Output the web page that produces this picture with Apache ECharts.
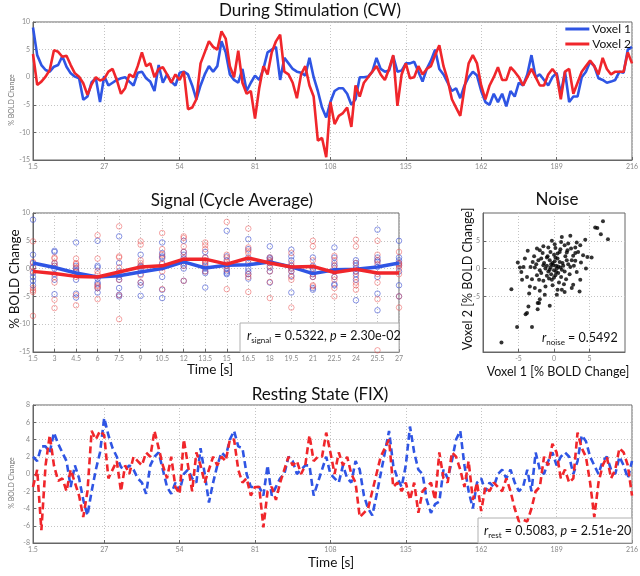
<!DOCTYPE html>
<html><head><meta charset="utf-8">
<script src="https://cdn.jsdelivr.net/npm/echarts@6/dist/echarts.min.js"></script>
<style>html,body{margin:0;padding:0;background:#fff}#c{width:640px;height:576px}</style>
</head><body><div id="c"></div>
<script>
// ---------------- data ----------------
const TR = 1.5; // sampling interval [s]
const TIME_TICKS = [1.5, 27, 54, 81, 108, 135, 162, 189, 216];

const STIM_V1 = [9.0,4.0,2.2,1.3,1.0,1.9,2.2,3.8,1.9,0.7,
 0.1,-0.2,-4.1,-3.5,-0.9,-0.2,-4.5,0.2,-1.5,-1.0,
 -0.5,-0.2,0.0,-0.8,-1.5,0.8,1.0,-0.2,-0.8,-2.5,
 2.2,-1.0,0.5,-0.8,-1.5,0.8,1.0,0.5,-1.5,-4.0,
 -1.5,0.5,2.0,1.0,2.0,6.5,4.5,0.5,-0.5,-1.0,
 1.5,-2.5,-1.0,0.3,-0.5,1.5,4.5,5.0,5.5,-0.5,
 3.5,2.5,1.5,1.0,0.8,0.3,3.5,0.0,-2.5,-5.5,
 -7.3,-4.5,-2.5,-2.0,-2.0,-3.0,-5.0,-4.0,0.0,0.0,
 0.1,1.0,3.5,1.5,1.0,1.2,3.8,1.0,1.2,2.5,
 2.5,2.8,1.0,-0.8,1.5,3.0,5.0,1.5,0.5,-1.0,
 -2.5,-2.0,-3.8,-1.5,0.0,1.0,0.3,-2.5,-4.5,-5.0,
 -3.0,-4.5,-3.0,-5.3,-2.5,-3.5,-1.0,-1.5,0.5,4.0,
 0.0,0.5,-0.5,-1.5,0.0,0.8,-3.0,1.0,-4.5,-3.5,
 -3.5,0.0,1.0,2.8,2.0,-0.2,-0.5,-1.0,-0.8,-0.5,
 1.0,0.8,5.0,5.5];
const STIM_V2 = [4.2,-1.4,-0.8,0.1,1.3,4.9,4.6,3.7,3.9,2.2,
 0.7,0.1,-1.1,-3.2,-1.3,0.0,-0.6,-0.3,1.0,1.5,
 -0.5,-3.0,-2.0,0.5,0.0,2.0,4.5,2.0,2.5,0.0,
 1.5,1.8,0.5,-1.0,0.5,-0.5,1.0,-5.8,-5.5,-4.0,
 2.5,4.5,6.5,5.5,5.0,8.3,7.0,2.0,0.0,4.8,
 -1.0,-3.0,-2.5,-7.5,-2.0,2.0,0.5,4.5,6.5,7.7,
 1.0,0.5,-1.0,-3.8,0.5,2.0,-1.5,-3.5,-11.5,-11.0,
 -14.5,-4.5,-8.5,-7.0,-6.5,-5.5,-9.0,-1.5,-3.5,-1.0,
 0.0,1.0,2.0,0.5,-0.5,1.5,4.0,-5.2,0.5,2.5,
 -0.2,0.0,2.0,0.5,1.5,2.0,4.0,5.8,2.0,-0.5,
 -4.0,-5.5,-7.0,-2.0,2.5,4.0,2.5,-1.5,-4.0,-1.5,
 0.0,1.8,-0.5,-0.5,1.8,1.0,0.0,-1.5,0.0,1.5,
 0.0,-1.5,-1.5,0.5,1.5,0.5,-4.0,1.0,1.5,-3.0,
 -1.0,1.0,2.0,3.0,2.0,0.5,3.5,1.5,0.5,1.0,
 1.0,1.0,4.5,2.5];

const REST_V1 = [2.0,1.5,3.2,3.2,2.5,4.8,3.5,2.5,1.5,-1.5,
 1.0,-0.5,-3.0,-4.8,-2.0,0.5,2.5,6.5,4.5,3.0,
 2.0,0.8,0.5,1.0,0.5,-0.5,-1.0,-2.3,1.0,2.0,
 2.5,0.5,-1.5,-2.3,-1.0,-2.0,0.0,0.5,-0.5,-1.0,
 3.0,0.0,-3.3,-1.0,1.0,2.5,2.0,4.0,5.0,3.2,
 3.0,0.0,-1.5,-1.5,-1.5,-2.5,1.0,-2.5,-1.5,-0.5,
 0.0,2.0,1.5,0.0,0.5,1.0,1.0,-2.5,-1.0,0.5,
 2.0,0.0,-0.5,-1.0,1.0,-0.5,-1.0,1.5,0.5,-2.5,
 -4.0,-4.8,-2.5,0.0,2.5,5.0,1.0,-0.5,-1.5,1.0,
 5.5,2.5,0.5,0.0,-3.0,-4.5,-3.5,-3.2,0.5,-0.5,
 1.5,4.0,5.0,1.0,-2.0,-4.0,-1.0,-0.5,-2.0,-1.0,
 -1.5,0.0,0.5,-0.5,0.5,-1.0,-2.0,-1.5,0.5,-2.0,
 2.5,0.5,0.0,1.5,2.5,1.0,2.0,2.5,2.0,0.0,
 1.5,4.5,3.8,2.0,1.0,0.0,1.5,2.0,0.5,0.0,
 2.0,1.0,-0.5,1.5];
const REST_V2 = [-1.5,0.5,-6.5,1.0,4.5,1.0,-0.8,-0.5,-2.0,0.5,
 -1.0,-2.5,-5.0,-2.0,5.0,4.0,5.0,4.5,-0.5,0.5,
 1.5,-2.0,1.0,0.0,2.0,1.5,1.0,2.5,2.0,5.0,
 3.0,1.0,-0.5,2.0,-1.5,-2.3,4.0,1.0,-2.0,2.5,
 1.0,-1.0,0.5,2.0,1.0,2.0,1.5,4.0,4.0,0.5,
 -1.0,-0.5,-2.5,-1.5,-1.5,-6.2,-2.0,-1.5,-3.0,-1.0,
 0.5,2.0,1.0,1.5,0.0,1.0,4.5,1.5,2.0,2.0,
 4.8,2.5,0.0,2.5,1.0,2.0,0.0,-1.0,-5.0,-4.5,
 -4.0,-2.0,0.0,2.0,3.0,4.0,-1.5,-1.0,-2.0,-1.0,
 -3.0,-1.0,-4.5,-2.0,-1.5,-1.0,-3.0,2.5,-0.5,-1.0,
 2.5,2.0,0.5,-1.5,1.5,-3.0,-1.0,-4.3,-1.5,-2.0,
 -1.0,-1.5,-2.0,-0.5,-2.0,-4.0,-5.5,-5.3,-5.5,-4.0,
 -2.0,-1.5,2.0,1.0,3.5,2.5,-0.5,0.5,-1.0,-0.5,
 4.8,3.0,2.0,-1.0,-5.0,-1.0,1.0,2.0,-0.5,0.5,
 3.0,2.5,1.0,-2.5];

const SIG_T = [1.5,3,4.5,6,7.5,9,10.5,12,13.5,15,16.5,18,19.5,21,22.5,24,25.5,27];
const SIG_V1_MEAN = [1.0,0.2,-0.8,-1.5,-1.3,-0.6,0.0,1.2,0.1,0.6,0.7,1.2,0.3,-0.9,-0.2,-0.1,0.3,1.0];
const SIG_V2_MEAN = [-0.5,-0.9,-1.4,-1.5,-0.6,0.3,0.5,1.7,1.7,0.8,1.9,1.0,0.3,0.4,-0.7,-0.1,-0.8,-0.8];
const SIG_V1_CYCLES = [
 [8.8,2.5,1.0,0.2,-0.8,-1.5,-2.2,-3.0],[3.2,3.0,1.0,0.5,0.0,-1.0,-2.0,-4.6],
 [4.7,0.5,0.0,-0.3,-0.5,-2.0,-4.5,-5.2],[5.0,0.5,0.2,-1.8,-2.5,-2.8,-3.5,-4.3],
 [5.8,1.0,-0.5,-1.5,-2.0,-3.5,-4.7,-5.0],[2.5,0.5,0.3,0.0,-1.0,-2.5,-3.0,-4.9],
 [4.7,2.8,2.2,2.0,1.0,-1.5,-3.8,-5.3],[5.0,3.0,2.5,1.8,1.0,0.5,0.0,-2.2],
 [3.0,2.0,1.2,0.5,0.0,-0.5,-0.8,-3.4],[6.8,2.2,1.5,0.5,0.0,-0.5,-0.8,-1.0],
 [5.3,3.5,2.0,1.0,0.0,-0.5,-1.0,-1.8],[4.0,2.0,1.8,1.5,1.0,0.2,-0.5,-2.5],
 [3.4,2.2,1.5,0.5,0.0,-0.5,-1.3,-4.3],[2.0,0.5,0.0,-0.3,-1.0,-1.5,-3.5,-3.8],
 [3.8,2.0,1.0,0.5,-0.5,-1.5,-2.8,-3.0],[1.5,1.0,0.5,0.0,-0.5,-1.0,-2.0,-5.7],
 [7.0,2.0,1.5,1.2,0.3,-1.5,-4.5,-7.5],[5.0,2.0,1.5,1.0,0.5,-0.5,-3.0,-5.0]];
const SIG_V2_CYCLES = [
 [4.9,1.2,0.3,-0.5,-3.5,-3.9,-4.2,-8.5],[2.0,1.8,1.0,0.5,-1.5,-2.5,-5.6,-7.1],
 [1.8,1.0,0.8,0.2,-0.6,-1.5,-4.8,-6.6],[6.0,1.8,-0.5,-1.0,-3.0,-3.2,-3.5,-5.5],
 [7.6,2.2,2.0,0.2,-0.8,-2.0,-4.8,-9.1],[4.9,4.3,1.5,1.0,0.5,-0.2,-1.2,-2.5],
 [6.4,3.5,2.5,1.8,0.8,0.2,-0.5,-3.7],[5.8,5.5,4.0,3.0,2.0,1.5,0.5,-2.2],
 [4.7,4.2,3.5,2.0,1.5,1.0,0.8,-0.5],[8.4,2.5,2.0,1.2,0.8,0.5,-0.2,-3.7],
 [7.2,3.8,3.2,2.8,1.5,-1.0,-1.5,-4.2],[2.0,1.5,1.2,1.0,0.5,-0.5,-2.4,-5.3],
 [2.8,1.0,0.5,0.0,-0.5,-1.5,-2.0,-7.0],[5.0,4.0,1.5,0.3,-1.0,-1.5,-3.0,-3.2],
 [2.3,1.5,0.5,0.0,-1.5,-2.0,-3.5,-5.0],[5.2,4.0,1.0,-0.5,-1.5,-2.5,-3.0,-3.8],
 [5.0,2.5,1.5,0.8,-1.0,-2.5,-5.5,-14.7],[3.0,1.0,0.8,0.5,0.0,-1.0,-5.0,-7.0]];

const NOISE_PTS = [
 [6.9,8.5],[5.8,7.4],[6.1,7.3],[6.6,6.2],[7.6,5.3],[4.4,5.2],[4.7,2.1],[5.3,2.0],[3.6,-4.1],
 [-7.4,-13.3],[-5.2,-10.5],[-3.1,-10.5],[-3.8,-8.0],[-4.0,-8.2],[-3.6,-6.8],[-2.3,-6.2],[-2.1,-6.2],
 [-2.3,-7.3],[-0.6,-6.7],[-6.0,-3.7],[-5.1,1.1],[-4.8,0.2],[-4.6,-0.6],[-3.7,3.2],[-4.1,1.8],
 [1.1,5.7],[2.3,5.9],[3.2,4.7],[3.7,4.2],[-0.3,5.0],[0.1,4.4],[1.5,4.2],[2.4,3.6],[3.4,3.0],
 [4.1,2.4],[0.8,3.0],[1.8,2.9],[2.7,2.3],[3.0,1.4],[3.8,1.1],[2.3,0.3],[3.2,-0.6],[3.7,-2.0],
 [2.7,-2.9],[1.7,-1.9],[1.1,-3.8],[0.4,-4.7],[-1.3,-4.7],[-2.0,-4.0],[-2.7,-3.5],[-3.4,-3.2],
 [-3.1,-1.9],[-3.8,-1.5],[-2.4,-1.2],[-2.0,-0.3],[-1.5,0.6],[-2.2,1.5],[-1.0,2.0],[-2.0,3.3],
 [-2.4,3.6],[-3.3,0.3],[-4.3,0.3],[-2.7,0.2],
 [-0.5,0.2],[0.0,-0.3],[0.3,0.5],[-0.8,-0.5],[0.6,-0.8],[-0.2,1.0],[0.9,0.2],[-1.2,0.0],
 [0.2,-1.2],[-0.6,1.5],[1.2,1.0],[-1.0,-1.3],[0.5,1.8],[-0.3,-2.0],[1.5,-0.5],[-1.8,-0.8],
 [0.0,2.5],[1.0,-1.5],[-0.9,2.2],[1.8,1.5],[-1.5,-2.2],[0.7,-2.5],[-0.4,-1.0],[0.4,0.0],
 [-0.1,0.6],[1.3,0.5],[-1.4,1.0],[0.8,1.2],[-0.7,-1.8],[0.2,2.0],[2.0,0.8],[-2.1,-2.0],
 [1.6,2.2],[-0.2,-3.0],[0.9,3.5],[-1.6,2.8],[2.5,1.5],[-0.5,3.0],[1.4,-2.8],[-1.2,-3.2],
 [0.1,1.3],[-0.4,0.8],[0.6,0.4],[-1.0,0.5],[0.3,-0.6],[1.1,-0.2],[-0.6,-0.2],[2.2,-1.0],
 [-2.5,0.8],[0.0,-1.6],[1.9,3.3],[-1.8,1.8],[2.8,0.5],[0.5,2.7],[-0.8,3.8],[1.0,4.8],
 [2.0,4.5],[-1.5,4.0],[3.0,3.8],[-2.8,2.2],[4.5,0.0],[2.5,-3.5],[-3.5,-4.5],[-4.5,-2.0],
 [0.5,-3.8],[-2.0,-5.5],[1.5,-4.2],[3.0,2.8],[-3.0,1.2],[0.2,3.7]];
const NOISE_TICKS = [-5, 0, 5];

// ---------------- build ----------------
const FONT = 'Lato, "Open Sans", sans-serif';
const BLUE = '#2f55e4', RED = '#f0262b';
const AX = '#666', GRID = '#c4c4c4', TL = '#8a8a8a';
const pairs = (arr) => arr.map((v, i) => [+(TR * (i + 1)).toFixed(1), v]);
const cyc = (cycles) => SIG_T.flatMap((t, k) => cycles[k].map(v => [t, v]));

function axis(o) {
  const base = {
    axisLine: {show: true, onZero: false, lineStyle: {color: AX, width: 1}},
    axisTick: {show: true, inside: true, length: 3, lineStyle: {color: AX}},
    axisLabel: {fontSize: 7, color: TL, fontFamily: FONT, margin: 3},
    splitLine: {show: true, lineStyle: {color: GRID, type: [1, 2], width: 1}}
  };
  const r = Object.assign({}, base, o);
  ['axisTick', 'axisLabel', 'splitLine'].forEach(k => { if (o[k]) r[k] = Object.assign({}, base[k], o[k]); });
  return r;
}

const gridBase = {show: true, borderColor: AX, borderWidth: 1, containLabel: false, outerBoundsMode: 'none'};

function txt(x, y, text, size, extra) {
  return Object.assign({
    type: 'text', x: x, y: y, z: 20,
    style: {text: text, fontSize: size, fontFamily: FONT, fill: '#111', align: 'center', verticalAlign: 'middle'}
  }, extra || {});
}
function rot(x, y, text, size, color) {
  return {type: 'text', x: x, y: y, rotation: Math.PI / 2, z: 20,
    style: {text: text, fontSize: size, fontFamily: FONT, fill: color || '#111', align: 'center', verticalAlign: 'middle'}};
}
const RICH = {
  i: {fontSize: 12.5, fontFamily: FONT, fontStyle: 'italic', fill: '#111', lineHeight: 16, verticalAlign: 'middle'},
  s: {fontSize: 8, fontFamily: FONT, fill: '#111', lineHeight: 7, verticalAlign: 'bottom'},
  n: {fontSize: 12.5, fontFamily: FONT, fill: '#111', lineHeight: 16, verticalAlign: 'middle'}
};
function ann(x, y, parts) {
  return {type: 'text', x: x, y: y, z: 20,
    style: {text: parts.map(p => '{' + p[0] + '|' + p[1] + '}').join(''), align: 'left', verticalAlign: 'middle', rich: RICH}};
}

const option = {
  animation: false,
  backgroundColor: '#fff',
  grid: [
    Object.assign({left: 33, top: 22, width: 599, height: 138}, gridBase),
    Object.assign({left: 33, top: 213, width: 366, height: 139}, gridBase),
    Object.assign({left: 483, top: 213, width: 142, height: 139}, gridBase),
    Object.assign({left: 33, top: 405, width: 599, height: 138}, gridBase)
  ],
  xAxis: [
    axis({gridIndex: 0, type: 'value', min: 1.5, max: 216,
      axisTick: {customValues: TIME_TICKS}, axisLabel: {customValues: TIME_TICKS}}),
    axis({gridIndex: 1, type: 'value', min: 1.5, max: 27, interval: 1.5}),
    axis({gridIndex: 2, type: 'value', min: -10, max: 10,
      axisTick: {customValues: NOISE_TICKS}, axisLabel: {customValues: NOISE_TICKS}}),
    axis({gridIndex: 3, type: 'value', min: 1.5, max: 216,
      axisTick: {customValues: TIME_TICKS}, axisLabel: {customValues: TIME_TICKS}})
  ],
  yAxis: [
    axis({gridIndex: 0, type: 'value', min: -15, max: 10, interval: 5}),
    axis({gridIndex: 1, type: 'value', min: -15, max: 10, interval: 5}),
    axis({gridIndex: 2, type: 'value', min: -15, max: 10,
      axisTick: {customValues: NOISE_TICKS}, axisLabel: {customValues: NOISE_TICKS}}),
    axis({gridIndex: 3, type: 'value', min: -8, max: 8, interval: 2})
  ],
  legend: {
    data: ['Voxel 1', 'Voxel 2'], orient: 'vertical', right: 9, top: 23,
    icon: 'rect', itemWidth: 24, itemHeight: 3, itemGap: 3, padding: 0,
    textStyle: {fontSize: 12, color: '#111', fontFamily: FONT, padding: [0, 0, 0, -2]}
  },
  series: [
    {name: 'Voxel 1', type: 'line', xAxisIndex: 0, yAxisIndex: 0, data: pairs(STIM_V1), showSymbol: false,
      color: BLUE, lineStyle: {color: BLUE, width: 2.6}, z: 3},
    {name: 'Voxel 2', type: 'line', xAxisIndex: 0, yAxisIndex: 0, data: pairs(STIM_V2), showSymbol: false,
      color: RED, lineStyle: {color: RED, width: 2.6}, z: 4},
    {name: 'sig1pts', type: 'scatter', xAxisIndex: 1, yAxisIndex: 1, data: cyc(SIG_V1_CYCLES),
      symbol: 'circle', symbolSize: 5.5, itemStyle: {color: 'rgba(255,255,255,0)', borderColor: 'rgba(60,80,210,0.75)', borderWidth: 1}, z: 2},
    {name: 'sig2pts', type: 'scatter', xAxisIndex: 1, yAxisIndex: 1, data: cyc(SIG_V2_CYCLES),
      symbol: 'circle', symbolSize: 5.5, itemStyle: {color: 'rgba(255,255,255,0)', borderColor: 'rgba(235,70,70,0.6)', borderWidth: 1}, z: 2},
    {name: 'sig1', type: 'line', xAxisIndex: 1, yAxisIndex: 1, data: SIG_T.map((t, k) => [t, SIG_V1_MEAN[k]]),
      showSymbol: false, lineStyle: {color: BLUE, width: 3.5}, z: 5},
    {name: 'sig2', type: 'line', xAxisIndex: 1, yAxisIndex: 1, data: SIG_T.map((t, k) => [t, SIG_V2_MEAN[k]]),
      showSymbol: false, lineStyle: {color: RED, width: 3.5}, z: 6},
    {name: 'noise', type: 'scatter', xAxisIndex: 2, yAxisIndex: 2, data: NOISE_PTS,
      symbol: 'circle', symbolSize: 4, itemStyle: {color: '#000'}, z: 3},
    {name: 'rest1', type: 'line', xAxisIndex: 3, yAxisIndex: 3, data: pairs(REST_V1), showSymbol: false,
      lineStyle: {color: BLUE, width: 2.6, type: [7, 4]}, z: 3},
    {name: 'rest2', type: 'line', xAxisIndex: 3, yAxisIndex: 3, data: pairs(REST_V2), showSymbol: false,
      lineStyle: {color: RED, width: 2.6, type: [7, 4]}, z: 4}
  ],
  graphic: [
    txt(310, 11, 'During Stimulation (CW)', 17),
    txt(232, 201, 'Signal (Cycle Average)', 17),
    txt(557, 200, 'Noise', 17),
    txt(320, 395, 'Resting State (FIX)', 17),
    rot(12, 100, '% BOLD Change', 7, '#777'),
    rot(12, 483, '% BOLD Change', 7, '#777'),
    rot(15, 279, '% BOLD Change', 13.5),
    rot(468, 279, 'Voxel 2 [% BOLD Change]', 12.5),
    txt(558, 372, 'Voxel 1 [% BOLD Change]', 12.5),
    txt(210, 370, 'Time [s]', 13.5),
    txt(331, 563, 'Time [s]', 13.5),
    {type: 'rect', z: 1, shape: {x: 240, y: 323, width: 159, height: 29}, style: {fill: '#fff', stroke: '#b0b0b0', lineWidth: 1}},
    {type: 'rect', z: 1, shape: {x: 478, y: 518, width: 154, height: 25}, style: {fill: '#fff', stroke: '#b0b0b0', lineWidth: 1}},
    ann(247, 336, [['i', 'r'], ['s', 'signal'], ['n', ' = 0.5322, '], ['i', 'p'], ['n', ' = 2.30e-02']]),
    ann(542, 338, [['i', 'r'], ['s', 'noise'], ['n', ' = 0.5492']]),
    ann(484, 531, [['i', 'r'], ['s', 'rest'], ['n', ' = 0.5083, '], ['i', 'p'], ['n', ' = 2.51e-20']])
  ]
};

const chart = echarts.init(document.getElementById('c'), null, {renderer: 'canvas'});
chart.setOption(option);
</script>
</body></html>
